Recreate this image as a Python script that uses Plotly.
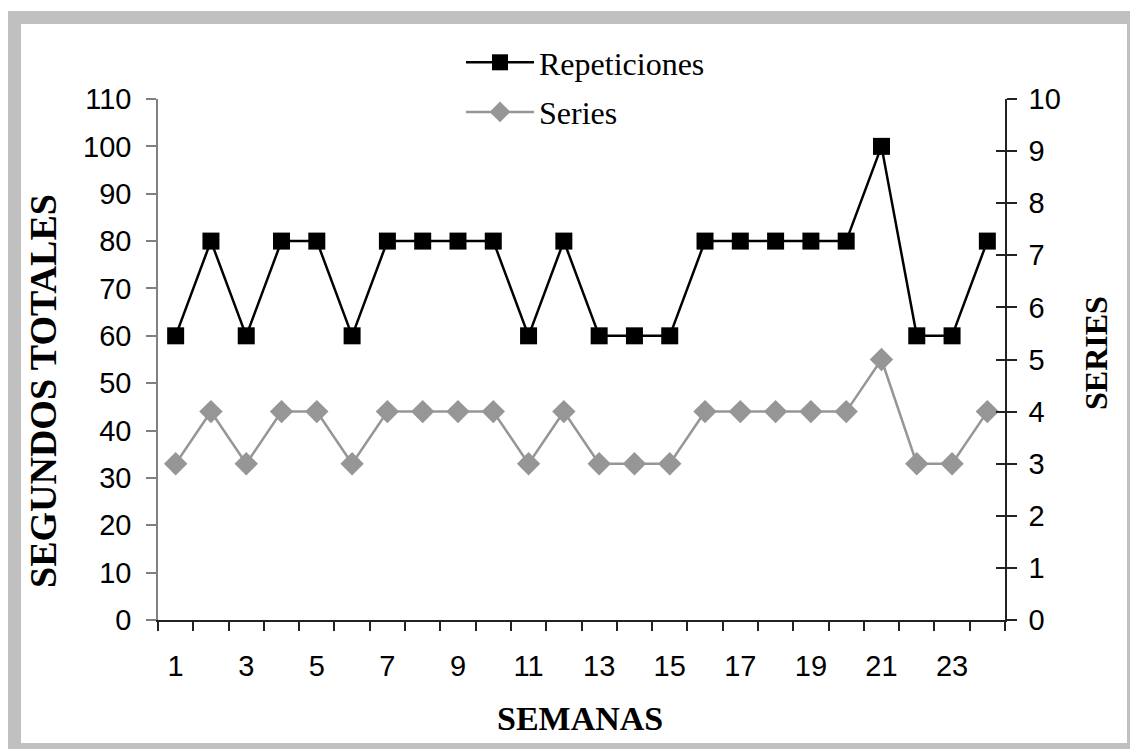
import plotly.graph_objects as go

# Weekly training load
semanas = list(range(1, 25))
repeticiones = [60, 80, 60, 80, 80, 60, 80, 80, 80, 80, 60, 80,
                60, 60, 60, 80, 80, 80, 80, 80, 100, 60, 60, 80]
series = [3, 4, 3, 4, 4, 3, 4, 4, 4, 4, 3, 4,
          3, 3, 3, 4, 4, 4, 4, 4, 5, 3, 3, 4]
etiquetas_x = [str(s) for s in semanas if s % 2 == 1]

W, H = 1130, 749
L, R, T, B = 158, 1005, 99, 620

SANS = "Liberation Sans, Arial, sans-serif"
SERIF = "Liberation Serif, Times New Roman, serif"


def xp(px):
    return (px - L) / (R - L)


def yp(py):
    return (B - py) / (B - T)


fig = go.Figure()

fig.add_trace(go.Scatter(
    x=semanas, y=repeticiones, name="Repeticiones", yaxis="y",
    legendgroup="rep", mode="lines+markers",
    line=dict(color="#000000", width=2.5),
    marker=dict(symbol="square", size=17, color="#000000"),
))
fig.add_trace(go.Scatter(
    x=semanas, y=series, name="Series", yaxis="y2",
    legendgroup="ser", mode="lines+markers",
    line=dict(color="#969696", width=2.5),
    marker=dict(symbol="diamond", size=18, color="#969696"),
))

fig.update_layout(
    width=W, height=H,
    margin=dict(l=L, r=W - R, t=T, b=H - B),
    paper_bgcolor="white", plot_bgcolor="white",
    xaxis=dict(
        range=[0.5, 24.5], tickmode="array",
        tickvals=[s for s in semanas if s % 2 == 1], ticktext=etiquetas_x,
        ticks="", showgrid=False, zeroline=False,
        showline=True, linecolor="#222222", linewidth=1.5,
        tickfont=dict(family=SANS, size=29, color="#000"),
        ticklabelstandoff=19,
        minor=dict(tickmode="linear", tick0=0.5, dtick=1, ticks="outside",
                   ticklen=9, tickcolor="#222222", tickwidth=1.5, showgrid=False),
    ),
    yaxis=dict(
        range=[0, 110], dtick=10, tick0=0, ticks="outside", ticklen=10,
        tickcolor="#808080", tickwidth=1.5, showgrid=False, zeroline=False,
        showline=True, linecolor="#808080", linewidth=1.5,
        tickfont=dict(family=SANS, size=29, color="#000"),
        ticklabelstandoff=9,
    ),
    yaxis2=dict(
        range=[0, 10], dtick=1, tick0=0, overlaying="y", side="right",
        ticks="outside", ticklen=10, tickcolor="#222222", tickwidth=1.5,
        showgrid=False, zeroline=False,
        showline=True, linecolor="#222222", linewidth=1.5,
        tickfont=dict(family=SANS, size=29, color="#000"),
        ticklabelstandoff=6,
    ),
    yaxis3=dict(
        range=[0, 10], dtick=1, tick0=0, overlaying="y", side="right",
        ticks="inside", ticklen=9, tickcolor="#222222", tickwidth=1.5,
        showgrid=False, zeroline=False, showline=False, showticklabels=False,
    ),
    legend=dict(
        x=xp(461), y=yp(35), xanchor="left", yanchor="top",
        font=dict(family=SERIF, size=32, color="#000"),
        bgcolor="rgba(0,0,0,0)", itemwidth=68,
        traceorder="grouped", tracegroupgap=5,
    ),
    showlegend=True,
)

# ghost trace so yaxis3 is rendered
fig.add_trace(go.Scatter(x=[None], y=[None], yaxis="y3", showlegend=False,
                         hoverinfo="skip"))

# grey outer frame
fig.add_shape(type="rect", xref="paper", yref="paper",
              x0=xp(14.5), x1=xp(1133.5), y0=yp(749.5), y1=yp(17.5),
              line=dict(color="#C0C0C0", width=13), layer="below")


def titulo(size):
    return dict(family=SERIF, size=size, color="#000")


fig.add_annotation(text="<b>SEGUNDOS TOTALES</b>", xref="paper", yref="paper",
                   x=xp(43), y=yp(391), xanchor="center", yanchor="middle",
                   textangle=-90, showarrow=False, font=titulo(38))
fig.add_annotation(text="<b>SERIES</b>", xref="paper", yref="paper",
                   x=xp(1096), y=yp(353), xanchor="center", yanchor="middle",
                   textangle=-90, showarrow=False, font=titulo(32))
fig.add_annotation(text="<b>SEMANAS</b>", xref="paper", yref="paper",
                   x=xp(580), y=yp(718), xanchor="center", yanchor="middle",
                   showarrow=False, font=titulo(34))

fig.write_html("out.html")
